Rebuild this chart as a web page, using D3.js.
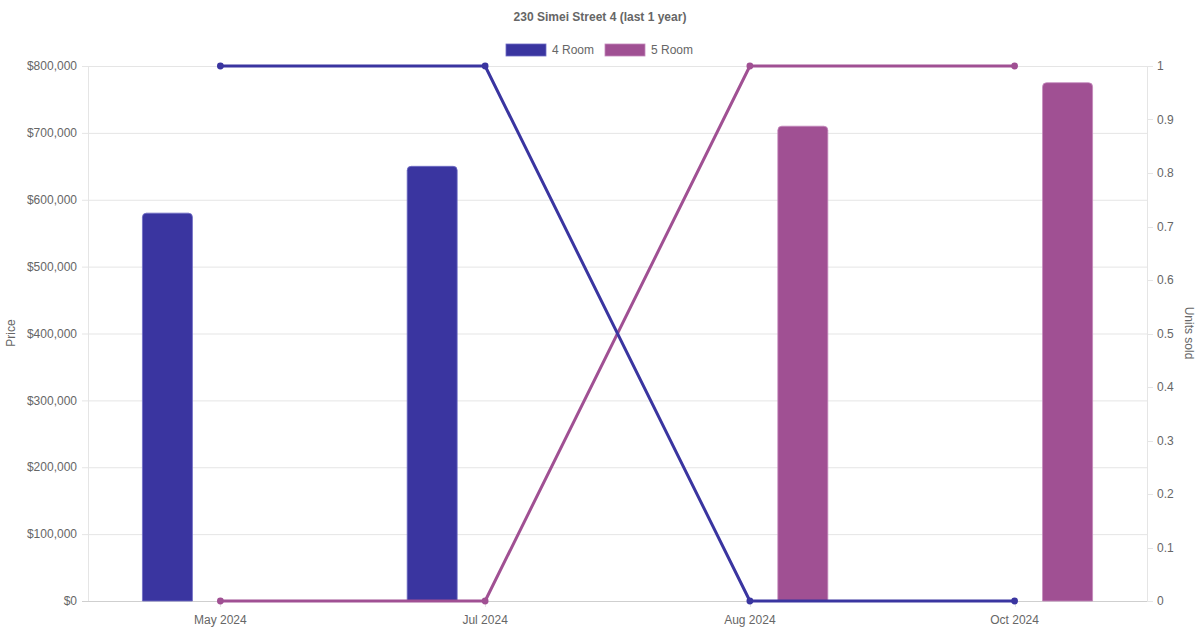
<!DOCTYPE html>
<html><head><meta charset="utf-8">
<script src="https://cdn.jsdelivr.net/npm/d3@7"></script>
<style>
html,body{margin:0;padding:0;background:#fff;}
svg{display:block;font-family:"Liberation Sans",Arial,sans-serif;}
</style></head>
<body><svg id="c" width="1200" height="630"></svg>
<script>
const categories = ["May 2024","Jul 2024","Aug 2024","Oct 2024"];
const seriesNames = ["4 Room","5 Room"];
const price4 = [580000, 650000, null, null];
const price5 = [null, null, 710000, 775000];
const units4 = [1, 1, 0, 0];
const units5 = [0, 0, 1, 1];
const priceTicks = [0,100000,200000,300000,400000,500000,600000,700000,800000];
const unitTicks = [0,0.1,0.2,0.3,0.4,0.5,0.6,0.7,0.8,0.9,1];
const colors = ["#3a35a0","#a05093"];
const borders = ["#6f6cc4","#c488bb"];

const svg = d3.select("#c");
const L=88, R=1147, T=66, B=601;
const x = d3.scaleBand().domain(categories).range([L,R]).paddingInner(0).paddingOuter(0);
const bw = x.bandwidth();
const xs = d3.scaleBand().domain(seriesNames).range([bw*0.1,bw*0.9]).paddingInner(0).paddingOuter(0);
const yP = d3.scaleLinear().domain([0,800000]).range([B,T]);
const yU = d3.scaleLinear().domain([0,1]).range([B,T]);

// gridlines
svg.append("g").selectAll("line").data(priceTicks).join("line")
  .attr("x1",L-6).attr("x2",R).attr("y1",d=>yP(d)+0.5).attr("y2",d=>yP(d)+0.5)
  .attr("stroke",d=>d===0?"#cfcfcf":"#e5e5e5").attr("stroke-width",1);
// right tick marks
svg.append("g").selectAll("line").data(unitTicks).join("line")
  .attr("x1",R).attr("x2",R+6).attr("y1",d=>Math.round(yU(d))+0.5).attr("y2",d=>Math.round(yU(d))+0.5)
  .attr("stroke","#e5e5e5");
// axis lines
svg.append("line").attr("x1",L+0.5).attr("x2",L+0.5).attr("y1",T).attr("y2",B).attr("stroke","#e5e5e5");
svg.append("line").attr("x1",R+0.5).attr("x2",R+0.5).attr("y1",T).attr("y2",B).attr("stroke","#e5e5e5");
// x tick marks
svg.append("g").selectAll("line").data(categories).join("line")
  .attr("x1",d=>Math.round(x(d)+bw/2)+0.5).attr("x2",d=>Math.round(x(d)+bw/2)+0.5)
  .attr("y1",B).attr("y2",B+6).attr("stroke","#e5e5e5");

const fmt = d=>"$"+d3.format(",")(d);
svg.append("g").selectAll("text").data(priceTicks).join("text")
  .attr("x",77).attr("y",d=>yP(d)).attr("dy","0.35em").attr("text-anchor","end")
  .attr("font-size",12).attr("fill","#666").text(fmt);
svg.append("g").selectAll("text").data(unitTicks).join("text")
  .attr("x",1157).attr("y",d=>yU(d)).attr("dy","0.35em").attr("text-anchor","start")
  .attr("font-size",12).attr("fill","#666").text(d=>d3.format("~g")(d));
svg.append("g").selectAll("text").data(categories).join("text")
  .attr("x",d=>x(d)+bw/2).attr("y",620).attr("dy","0.35em").attr("text-anchor","middle")
  .attr("font-size",12).attr("fill","#666").text(d=>d);

// axis titles
svg.append("text").attr("transform","translate(15,333) rotate(-90)").attr("text-anchor","middle")
  .attr("font-size",12).attr("fill","#666").text("Price");
svg.append("text").attr("transform","translate(1185,333) rotate(90)").attr("text-anchor","middle")
  .attr("font-size",12).attr("fill","#666").text("Units sold");

// title
svg.append("text").attr("x",600).attr("y",17).attr("dy","0.35em").attr("text-anchor","middle")
  .attr("font-size",12).attr("font-weight","bold").attr("fill","#666").text("230 Simei Street 4 (last 1 year)");

// bars
function roundTop(x0,y0,w,h,r){
  r=Math.min(r,h,w/2);
  return `M${x0},${y0+h}V${y0+r}Q${x0},${y0} ${x0+r},${y0}H${x0+w-r}Q${x0+w},${y0} ${x0+w},${y0+r}V${y0+h}Z`;
}
const priceSeries=[price4,price5];
const barW=50;
priceSeries.forEach((vals,si)=>{
  svg.append("g").selectAll("path").data(vals.map((v,i)=>({v,c:categories[i]})).filter(d=>d.v!=null)).join("path")
    .attr("d",d=>{
      const cx = x(d.c)+xs(seriesNames[si])+xs.bandwidth()/2;
      const y0 = yP(d.v);
      return roundTop(cx-barW/2,y0,barW,B-y0,4);
    })
    .attr("fill",colors[si]).attr("stroke",borders[si]).attr("stroke-width",0.8);
});

// lines
const unitSeries=[units4,units5];
const lineGen = d3.line().x(d=>x(d.c)+bw/2).y(d=>yU(d.v));
[1,0].forEach(si=>{
  const data=unitSeries[si].map((v,i)=>({v,c:categories[i]}));
  svg.append("path").datum(data).attr("d",lineGen).attr("fill","none")
    .attr("stroke",colors[si]).attr("stroke-width",3).attr("stroke-linejoin","round");
  svg.append("g").selectAll("circle").data(data).join("circle")
    .attr("cx",d=>x(d.c)+bw/2).attr("cy",d=>yU(d.v)).attr("r",3.4).attr("fill",colors[si]);
});

// legend
const lg = svg.append("g");
const legX=[506,605];
seriesNames.forEach((n,i)=>{
  lg.append("rect").attr("x",legX[i]).attr("y",44).attr("width",40).attr("height",12)
    .attr("fill",colors[i]).attr("stroke",borders[i]).attr("stroke-width",0.8);
  lg.append("text").attr("x",legX[i]+46).attr("y",50).attr("dy","0.35em")
    .attr("font-size",12).attr("fill","#666").text(n);
});
</script></body></html>
